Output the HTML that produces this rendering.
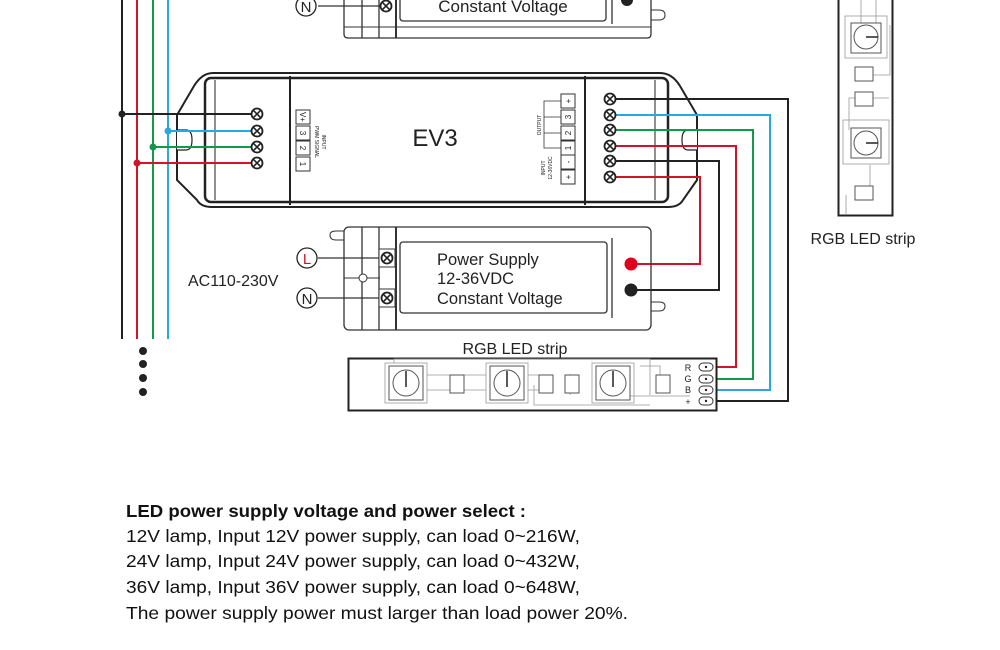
<!DOCTYPE html>
<html><head><meta charset="utf-8"><style>
html,body{margin:0;padding:0;background:#fff;}
svg{display:block;}
text{font-family:"Liberation Sans",sans-serif;}
</style></head><body>
<svg width="1000" height="650" viewBox="0 0 1000 650" xmlns="http://www.w3.org/2000/svg">
<defs>
<g id="term"><circle r="5.5" fill="#fff" stroke="#222" stroke-width="1.8"/><path d="M-3.8,-3.8L3.8,3.8M3.8,-3.8L-3.8,3.8" stroke="#222" stroke-width="1.6"/></g>
<g id="sb"><rect x="-7" y="-7" width="14" height="14" fill="#fff" stroke="#333" stroke-width="1"/></g>
</defs>

<!-- bus lines -->
<line x1="122" y1="0" x2="122" y2="339" stroke="#222" stroke-width="2"/>
<line x1="137" y1="0" x2="137" y2="339" stroke="#d0152a" stroke-width="2"/>
<line x1="153" y1="0" x2="153" y2="339" stroke="#139a48" stroke-width="2"/>
<line x1="168" y1="0" x2="168" y2="339" stroke="#2aa6e0" stroke-width="2"/>
<g fill="#222"><circle cx="143" cy="351" r="4"/><circle cx="143" cy="364" r="4"/><circle cx="143" cy="378" r="4"/><circle cx="143" cy="392" r="4"/></g>

<!-- top power supply -->
<g fill="none" stroke="#333" stroke-width="1.3">
<path d="M344,0 V34 Q344,38 348,38 H647 Q651,38 651,34 V0"/>
<rect x="400" y="-6" width="206" height="27" rx="3"/>
<line x1="362" y1="0" x2="362" y2="38"/><line x1="379" y1="0" x2="379" y2="38"/><line x1="396" y1="0" x2="396" y2="38" stroke-width="2"/>
<line x1="344" y1="27" x2="651" y2="27" stroke-width="1"/>
<line x1="612" y1="0" x2="612" y2="24"/>
<path d="M651,10 h8 q6,0 6,5 q0,5 -6,5 h-8" stroke-width="1"/>
</g>
<circle cx="627" cy="0" r="6" fill="#222"/>
<line x1="318" y1="6" x2="386" y2="6" stroke="#333" stroke-width="1.2"/>
<circle cx="306" cy="6" r="10" fill="#fff" stroke="#222" stroke-width="1.3"/>
<text x="306" y="12" font-size="15" text-anchor="middle" fill="#222">N</text>
<use href="#term" x="386" y="6"/>
<text x="503" y="12" font-size="17" text-anchor="middle" fill="#222">Constant Voltage</text>

<!-- EV3 -->
<g fill="none" stroke="#222">
<path d="M213,73 H660 Q672,73 680,86 L697,115 V180 L683,200 Q679,207 668,207 H212 Q201,207 197,200 L177,180 V115 L194,86 Q202,73 213,73 Z" stroke-width="2"/>
<rect x="205" y="78" width="463" height="124" rx="6" stroke-width="2.5"/>
<line x1="290" y1="76" x2="290" y2="205" stroke-width="2"/>
<line x1="585" y1="76" x2="585" y2="205" stroke-width="2"/>
<line x1="215" y1="80" x2="215" y2="200" stroke-width="1"/>
<line x1="655" y1="80" x2="655" y2="200" stroke-width="1"/>
<path d="M177,130 H186 Q192,130 192,140 Q192,150 186,150 H177" stroke-width="1.2" fill="#fff"/>
<path d="M697,130 H688 Q682,130 682,140 Q682,150 688,150 H697" stroke-width="1.2" fill="#fff"/>
</g>
<text x="435" y="146" font-size="24" text-anchor="middle" fill="#222">EV3</text>
<!-- left small boxes -->
<g font-size="8" text-anchor="middle" fill="#222">
<use href="#sb" x="303" y="117"/><text transform="translate(303,117) rotate(90)" y="3">V+</text>
<use href="#sb" x="303" y="133"/><text transform="translate(303,133) rotate(90)" y="3">3</text>
<use href="#sb" x="303" y="148"/><text transform="translate(303,148) rotate(90)" y="3">2</text>
<use href="#sb" x="303" y="164"/><text transform="translate(303,164) rotate(90)" y="3">1</text>
<text transform="translate(322,142) rotate(90)" font-size="5">INPUT</text>
<text transform="translate(315,142) rotate(90)" font-size="5">PWM SIGNAL</text>
<!-- right small boxes -->
<use href="#sb" x="568" y="101"/><text transform="translate(568,101) rotate(-90)" y="3">+</text>
<use href="#sb" x="568" y="117"/><text transform="translate(568,117) rotate(-90)" y="3">3</text>
<use href="#sb" x="568" y="133"/><text transform="translate(568,133) rotate(-90)" y="3">2</text>
<use href="#sb" x="568" y="148"/><text transform="translate(568,148) rotate(-90)" y="3">1</text>
<use href="#sb" x="568" y="162"/><text transform="translate(568,162) rotate(-90)" y="3">-</text>
<use href="#sb" x="568" y="177"/><text transform="translate(568,177) rotate(-90)" y="3">+</text>
<text transform="translate(541,125) rotate(-90)" font-size="5">OUTPUT</text>
<text transform="translate(545,168) rotate(-90)" font-size="5">INPUT</text>
<text transform="translate(552,168) rotate(-90)" font-size="5">12-36VDC</text>
</g>
<path d="M561,101 H544 V148 H561 M544,117 H561 M544,133 H561" fill="none" stroke="#333" stroke-width="0.8"/>

<!-- left wires -->
<path d="M122,114 H257" stroke="#222" stroke-width="2" fill="none"/>
<path d="M168,131 H257" stroke="#2aa6e0" stroke-width="2" fill="none"/>
<path d="M153,147 H257" stroke="#139a48" stroke-width="2" fill="none"/>
<path d="M137,163 H257" stroke="#d0152a" stroke-width="2" fill="none"/>
<circle cx="122" cy="114" r="3.5" fill="#222"/><circle cx="168" cy="131" r="3.5" fill="#2aa6e0"/>
<circle cx="153" cy="147" r="3.5" fill="#139a48"/><circle cx="137" cy="163" r="3.5" fill="#d0152a"/>
<use href="#term" x="257" y="114"/><use href="#term" x="257" y="131"/><use href="#term" x="257" y="147"/><use href="#term" x="257" y="163"/>

<!-- right wires -->
<g fill="none" stroke-width="2">
<path d="M610,99 H788 V401 H712" stroke="#222"/>
<path d="M610,115 H770 V390 H712" stroke="#2aa6e0"/>
<path d="M610,130 H753 V379 H712" stroke="#139a48"/>
<path d="M610,146 H736 V367 H712" stroke="#d0152a"/>
<path d="M610,161 H719 V290 H631" stroke="#222"/>
<path d="M610,177 H700 V264 H631" stroke="#d0152a"/>
</g>
<use href="#term" x="610" y="99"/><use href="#term" x="610" y="115"/><use href="#term" x="610" y="130"/>
<use href="#term" x="610" y="146"/><use href="#term" x="610" y="161"/><use href="#term" x="610" y="177"/>

<!-- bottom power supply -->
<g fill="none" stroke="#333" stroke-width="1.3">
<rect x="344" y="227" width="307" height="103" rx="5"/>
<rect x="400" y="242" width="207" height="71" rx="3"/>
<line x1="362" y1="227" x2="362" y2="330"/><line x1="379" y1="227" x2="379" y2="330"/><line x1="396" y1="227" x2="396" y2="330" stroke-width="2"/>
<line x1="612" y1="238" x2="612" y2="318"/>
<path d="M344,231 h-8 q-6,0 -6,4 q0,5 6,5 h8" stroke-width="1"/>
<path d="M651,302 h8 q6,0 6,4 q0,5 -6,5 h-8" stroke-width="1"/>
<line x1="344" y1="278" x2="380" y2="278" stroke-width="1"/>
</g>
<line x1="318" y1="258" x2="386" y2="258" stroke="#333" stroke-width="1.2"/>
<line x1="318" y1="298" x2="386" y2="298" stroke="#333" stroke-width="1.2"/>
<rect x="379" y="249" width="16" height="18" fill="#fff" stroke="#333"/>
<rect x="379" y="289" width="16" height="18" fill="#fff" stroke="#333"/>
<use href="#term" x="387" y="258"/><use href="#term" x="387" y="298"/>
<circle cx="363" cy="278" r="4" fill="#fff" stroke="#333"/>
<circle cx="307" cy="258" r="10" fill="#fff" stroke="#222" stroke-width="1.3"/>
<text x="307" y="264" font-size="15" text-anchor="middle" fill="#d0152a">L</text>
<circle cx="307" cy="298" r="10" fill="#fff" stroke="#222" stroke-width="1.3"/>
<text x="307" y="304" font-size="15" text-anchor="middle" fill="#222">N</text>
<text x="188" y="286" font-size="16" fill="#222">AC110-230V</text>
<g font-size="16.5" fill="#222">
<text x="437" y="265">Power Supply</text>
<text x="437" y="284">12-36VDC</text>
<text x="437" y="304">Constant Voltage</text>
</g>
<circle cx="631" cy="264" r="6.5" fill="#e0001b"/>
<circle cx="631" cy="290" r="6.5" fill="#222"/>

<!-- horizontal strip -->
<text x="515" y="354" font-size="16" text-anchor="middle" fill="#222">RGB LED strip</text>
<rect x="348.5" y="358.5" width="368" height="52" fill="#fff" stroke="#222" stroke-width="2"/>
<g fill="none" stroke="#999" stroke-width="0.8">
<rect x="385" y="363" width="42" height="40"/><rect x="486" y="363" width="42" height="40"/><rect x="592" y="363" width="42" height="40"/>
<path d="M394,363 V359 H650 V395 M427,375 H486 M427,390 H486 M528,375 H545 M528,390 H545 M534,385 V405 H650 M570,374 V395 M605,396 H690 M640,366 H660 V375"/>
</g>
<g fill="#fff" stroke="#555" stroke-width="1">
<rect x="389" y="366" width="34" height="34"/><rect x="490" y="366" width="34" height="34"/><rect x="596" y="366" width="34" height="34"/>
<circle cx="406" cy="383" r="13"/><circle cx="507" cy="383" r="13"/><circle cx="613" cy="383" r="13"/>
<rect x="450" y="375" width="14" height="18"/><rect x="539" y="375" width="14" height="18"/><rect x="565" y="375" width="14" height="18"/><rect x="656" y="375" width="14" height="18"/>
</g>
<g stroke="#222" stroke-width="1.5"><line x1="406" y1="371" x2="406" y2="387"/><line x1="507" y1="371" x2="507" y2="387"/><line x1="613" y1="371" x2="613" y2="387"/></g>
<g font-size="9" fill="#222" text-anchor="middle">
<text x="688" y="371">R</text><text x="688" y="382">G</text><text x="688" y="393">B</text><text x="688" y="405">+</text>
</g>
<g fill="#fff" stroke="#333" stroke-width="1">
<rect x="699" y="363" width="14" height="8" rx="4"/><rect x="699" y="375" width="14" height="8" rx="4"/>
<rect x="699" y="386" width="14" height="8" rx="4"/><rect x="699" y="397" width="14" height="8" rx="4"/>
</g>
<g fill="#222"><circle cx="706" cy="367" r="1.2"/><circle cx="706" cy="379" r="1.2"/><circle cx="706" cy="390" r="1.2"/><circle cx="706" cy="401" r="1.2"/></g>

<!-- vertical strip -->
<path d="M838.5,0 V215.5 H892.5 V0" fill="none" stroke="#222" stroke-width="2"/>
<g fill="none" stroke="#999" stroke-width="0.8">
<rect x="845" y="16" width="42" height="42"/><rect x="843" y="120" width="46" height="44"/>
<path d="M861,0 V25 M876,0 V25 M890,25 V75 H855 M889,98 H849 V130 M846,195 V215 M870,165 V190"/>
</g>
<g fill="#fff" stroke="#555" stroke-width="1">
<rect x="851" y="23" width="30" height="30"/><circle cx="866" cy="37" r="12"/>
<rect x="851" y="128" width="30" height="30"/><circle cx="866" cy="143" r="12"/>
<rect x="855" y="67" width="18" height="14"/><rect x="855" y="92" width="18" height="14"/><rect x="855" y="186" width="18" height="14"/>
</g>
<g stroke="#222" stroke-width="1.5"><line x1="866" y1="37" x2="878" y2="37"/><line x1="866" y1="143" x2="878" y2="143"/></g>
<text x="863" y="244" font-size="16" text-anchor="middle" fill="#222">RGB LED strip</text>

<!-- text -->
<g font-size="17.5" fill="#111">
<text x="126" y="517" font-weight="bold" textLength="400" lengthAdjust="spacingAndGlyphs">LED power supply voltage and power select :</text>
<text x="126" y="542" textLength="454" lengthAdjust="spacingAndGlyphs">12V lamp, Input 12V power supply, can load 0~216W,</text>
<text x="126" y="567" textLength="454" lengthAdjust="spacingAndGlyphs">24V lamp, Input 24V power supply, can load 0~432W,</text>
<text x="126" y="593" textLength="454" lengthAdjust="spacingAndGlyphs">36V lamp, Input 36V power supply, can load 0~648W,</text>
<text x="126" y="619" textLength="502" lengthAdjust="spacingAndGlyphs">The power supply power must larger than load power 20%.</text>
</g>
</svg>
</body></html>
